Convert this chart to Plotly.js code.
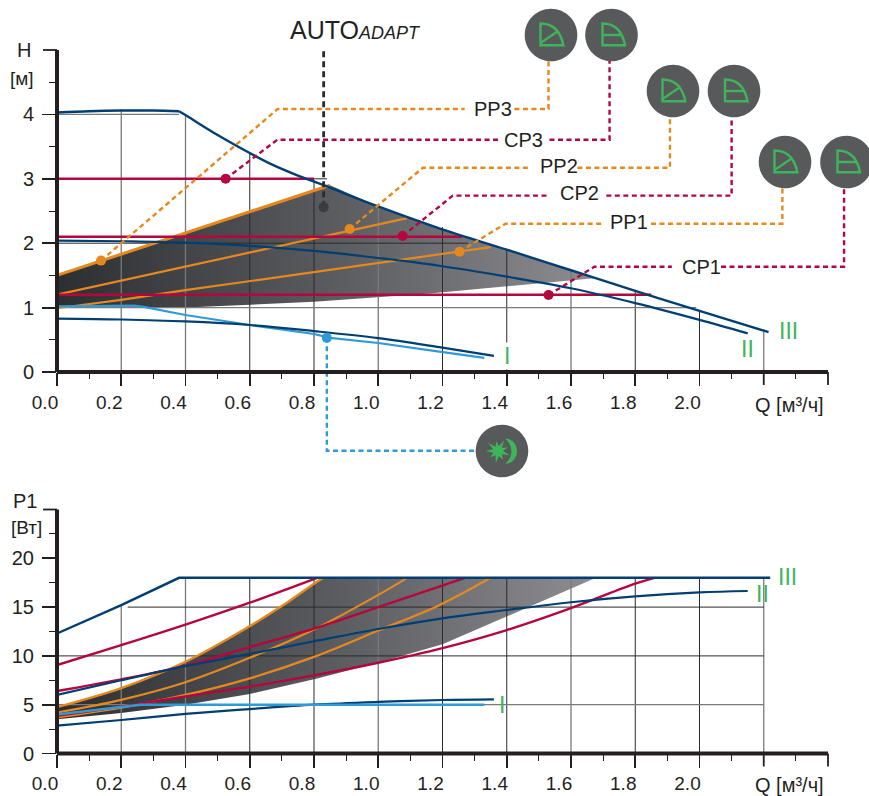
<!DOCTYPE html>
<html><head><meta charset="utf-8">
<script src="https://cdn.plot.ly/plotly-3.0.1.min.js"></script>
<style>html,body{margin:0;padding:0;background:#fff}#c{width:869px;height:796px}</style>
</head><body><div id="c"></div>
<script>
// ---------- data: head chart (Q, H) ----------
const plateauIII_Q=[0,0.1,0.2,0.3,0.38];
const plateauIII_H=[4.03,4.05,4.06,4.06,4.05];
const curveIII_Q=[0.38,0.4,0.5,0.6,0.67,0.75,0.83,1.0,1.19,1.4,1.6,1.8,2.0,2.215];
const curveIII_H=[4.05,3.99,3.68,3.40,3.22,3.05,2.9,2.57,2.23,1.9,1.58,1.26,0.95,0.62];
const curveII_Q=[0,0.2,0.4,0.6,0.8,1.0,1.19,1.4,1.6,1.8,2.0,2.15];
const curveII_H=[2.04,2.03,2.01,1.96,1.88,1.77,1.65,1.48,1.30,1.07,0.81,0.60];
const curveI_Q=[0,0.2,0.4,0.6,0.8,1.0,1.19,1.36];
const curveI_H=[0.83,0.815,0.785,0.73,0.635,0.525,0.385,0.25];
const night_Q=[0,0.24,0.27,0.4,0.6,0.8,0.85,1.0,1.19,1.33];
const night_H=[1.02,1.03,1.01,0.885,0.73,0.59,0.53,0.45,0.315,0.22];
const pp3_Q=[0,0.4,0.85];           const pp3_H=[1.5,2.16,2.9];
const pp2_Q=[0,0.2,0.4,0.6,0.8,1.0,1.09]; const pp2_H=[1.2,1.42,1.64,1.85,2.08,2.29,2.39];
const pp1_Q=[0,0.2,0.4,0.6,0.8,1.0,1.19,1.35]; const pp1_H=[0.99,1.12,1.27,1.41,1.56,1.70,1.83,1.94];
const cp3_Q=[0,0.8]; const cp3_H=[3,3];
const cp2_Q=[0,1.26]; const cp2_H=[2.1,2.1];
const cp1_Q=[0,1.85]; const cp1_H=[1.2,1.2];
const bandTop_Q=[0,0.4,0.85,1.0,1.19,1.4,1.6,1.68,1.4,1.16,0.8,0.4,0];
const bandTop_H=[1.5,2.16,2.9,2.57,2.23,1.9,1.58,1.46,1.33,1.22,1.09,1.0,1.0];
// operating points
const ptPP_Q=[0.137,0.911,1.253]; const ptPP_H=[1.73,2.22,1.868];
const ptCP_Q=[0.525,1.076,1.53];  const ptCP_H=[3,2.112,1.196];
const ptAuto_Q=[0.83]; const ptAuto_H=[2.56];
const ptNight_Q=[0.84]; const ptNight_H=[0.53];
// leaders
const lPP3_Q=[0.137,0.687,1.269,null,1.424,1.530,1.530]; const lPP3_H=[1.73,4.084,4.084,null,4.084,4.084,4.845];
const lCP3_Q=[0.525,0.686,1.377,null,1.533,1.720,1.720]; const lCP3_H=[3,3.607,3.607,null,3.607,3.607,4.845];
const lPP2_Q=[0.911,1.139,1.468,null,1.620,1.908,1.908]; const lPP2_H=[2.22,3.172,3.172,null,3.172,3.172,3.975];
const lCP2_Q=[1.076,1.232,1.527,null,1.710,2.100,2.100]; const lCP2_H=[2.112,2.738,2.738,null,2.738,2.738,3.975];
const lPP1_Q=[1.253,1.396,1.694,null,1.849,2.258,2.258]; const lPP1_H=[1.868,2.303,2.303,null,2.303,2.303,2.857];
const lCP1_Q=[1.530,1.673,1.914,null,2.067,2.450,2.450]; const lCP1_H=[1.196,1.635,1.635,null,1.635,1.635,2.857];
const lNight_Q=[0.84,0.84,1.303]; const lNight_H=[0.53,-1.222,-1.222];
const lAuto_Q=[0.83,0.83]; const lAuto_H=[2.56,5.036];
// grid extents
const gridV_Q=[0.2,0.4,0.6,0.8,1.0,1.2,1.4,1.6,1.8,2.0,2.2];
const gridV_H=[4.08,4.0,3.40,2.98,2.57,2.25,1.9,1.58,1.26,0.95,0.62];
const gridV_P=[15.2,18,18,18,18,18,18,18,18,18,18];
const gridDark=[0,0,1,1,0,1,1,0,1,1,0];
const gridH_H=[1,2,3,4]; const gridH_Qend=[1.99,1.28,0.84,0.38]; const gridH_dark=[0,1,1,0];
const gridH_P=[5,10,15]; const gridH_Pstart=[0,0,0.22]; const gridH_Pdark=[0,1,1];
// ---------- data: power chart (Q, P1) ----------
const pIII_Q=[0,0.2,0.38,2.22]; const pIII_P=[12.3,15.2,18,18];
const pII_Q=[0,0.2,0.4,0.6,0.8,1.0,1.19,1.4,1.6,1.8,2.0,2.15];
const pII_P=[6.0,7.5,8.96,10.2,11.5,12.76,13.8,14.7,15.5,16.1,16.5,16.65];
const pI_Q=[0,0.2,0.4,0.6,0.8,1.0,1.2,1.36]; const pI_P=[2.85,3.43,4.05,4.55,5.0,5.28,5.48,5.55];
const pNight_Q=[0,0.2,0.26,1.33]; const pNight_P=[4.0,4.8,5.0,5.0];
const pCP3_Q=[0,0.2,0.4,0.6,0.81]; const pCP3_P=[9.07,11.1,13.2,15.45,18];
const pCP2_Q=[0,0.2,0.4,0.6,0.8,1.0,1.19,1.27]; const pCP2_P=[6.4,7.6,9.0,10.9,12.8,15,17.1,18];
const pCP1_Q=[0,0.2,0.4,0.6,0.8,1.0,1.2,1.4,1.6,1.8,1.86]; const pCP1_P=[3.85,4.8,5.85,6.85,8.0,9.3,10.8,12.65,14.9,17.4,18];
const pPP3_Q=[0,0.2,0.4,0.6,0.7,0.8,0.83]; const pPP3_P=[4.75,6.7,9.4,13.05,15.1,17.4,18];
const pPP2_Q=[0,0.2,0.4,0.6,0.8,1.0,1.09]; const pPP2_P=[4.2,5.5,7.3,9.8,12.7,16.25,18];
const pPP1_Q=[0,0.2,0.4,0.6,0.8,1.0,1.19,1.35]; const pPP1_P=[3.7,4.7,6.0,7.7,9.9,12.6,15.2,18];
const pBand_Q=[0,0.2,0.4,0.6,0.7,0.8,0.83,1.678,1.4,1.2,1.0,0.8,0.6,0.4,0.2,0];
const pBand_P=[4.75,6.7,9.4,13.05,15.1,17.4,18,18,14.0,11.2,9.3,7.6,6.1,5.0,4.15,3.5];
// ticks
const xTicks=[0,0.2,0.4,0.6,0.8,1.0,1.2,1.4,1.6,1.8,2.0];
const xLabels=['0.0','0.2','0.4','0.6','0.8','1.0','1.2','1.4','1.6','1.8','2.0'];
const xTicksBare=[2.2,2.4];
const xMinor=[0.1,0.3,0.5,0.7,0.9,1.1,1.3,1.5,1.7,1.9,2.1,2.3];
const hTicks=[0,1,2,3,4]; const hLabels=['0','1','2','3','4']; const hTop=5;
const hMinor=[0.5,1.5,2.5,3.5,4.5];
const pTicks=[0,5,10,15,20]; const pLabels=['0','5','10','15','20']; const pTop=25;
const pMinor=[2.5,7.5,12.5,17.5,22.5];

// ---------- styles ----------
const NAVY='#003f74',CRIM='#b5063d',ORG='#e5891f',BLUE='#2f9ad6',INK='#231f20',GREEN='#3db55a',DISC='#58595b';
const FONT='"Liberation Sans",Arial,sans-serif';
const W=869,H=796;
const X0=57,X1=828,Y0a=372,Y1a=50,Y0b=753.5,Y1b=509.5;
const QMAX=2.4,kx=(X1-X0)/QMAX,kh=(Y0a-Y1a)/hTop,kp=(Y0b-Y1b)/pTop;
const px=x=>x/W, py=y=>(H-y)/H;

const traces=[];
function line(xs,ys,color,width,ax,opt={}){
  traces.push(Object.assign({x:xs,y:ys,xaxis:ax[0],yaxis:ax[1],mode:'lines',hoverinfo:'skip',
    line:Object.assign({color:color,width:width},opt.line||{})},opt.t||{}));
}
const A1=['x','y'],A2=['x2','y2'],OA=['x3','y3'],OB=['x3','y4'];
const grad={type:'horizontal',start:0,stop:1.7,colorscale:[[0,'#2c2f32'],[0.5,'#5a5b5e'],[1,'#8e8e93']]};
// bands
traces.push({x:bandTop_Q,y:bandTop_H,xaxis:'x',yaxis:'y',mode:'lines',fill:'toself',fillgradient:grad,line:{width:0},hoverinfo:'skip'});
traces.push({x:pBand_Q,y:pBand_P,xaxis:'x2',yaxis:'y2',mode:'lines',fill:'toself',fillgradient:grad,line:{width:0},hoverinfo:'skip'});
// grid
const GD='#2b2b2b',GL='#7a7a7a';
gridV_Q.forEach((q,i)=>{
  line([q,q],[0,gridV_H[i]],gridDark[i]?GD:GL,gridDark[i]?1:1.3,A1);
  line([q,q],[0,gridV_P[i]],gridDark[i]?GD:GL,gridDark[i]?1:1.3,A2);
});
gridH_H.forEach((h,i)=>line([0,gridH_Qend[i]],[h,h],gridH_dark[i]?GD:GL,gridH_dark[i]?1:1.3,A1));
gridH_P.forEach((p,i)=>line([gridH_Pstart[i],2.2],[p,p],gridH_Pdark[i]?GD:GL,gridH_Pdark[i]?1:1.3,A2));
// head curves
const sp={shape:'spline',smoothing:1};
line(pp3_Q,pp3_H,ORG,3,A1);
line(pp2_Q,pp2_H,ORG,2.2,A1);
line(pp1_Q,pp1_H,ORG,2.2,A1);
line(cp3_Q,cp3_H,CRIM,2.4,A1);
line(cp2_Q,cp2_H,CRIM,2.4,A1);
line(cp1_Q,cp1_H,CRIM,2.4,A1);
line(night_Q,night_H,BLUE,2.2,A1);
line(curveI_Q,curveI_H,NAVY,2.2,A1,{line:sp});
line(curveII_Q,curveII_H,NAVY,2.2,A1,{line:sp});
line(plateauIII_Q,plateauIII_H,NAVY,2.4,A1,{line:sp});
line(curveIII_Q,curveIII_H,NAVY,2.4,A1,{line:sp});
// power curves
line(pPP3_Q,pPP3_P,ORG,2.4,A2,{line:sp});
line(pPP2_Q,pPP2_P,ORG,2.2,A2,{line:sp});
line(pPP1_Q,pPP1_P,ORG,2.2,A2,{line:sp});
line(pCP3_Q,pCP3_P,CRIM,2.4,A2,{line:sp});
line(pCP2_Q,pCP2_P,CRIM,2.4,A2,{line:sp});
line(pCP1_Q,pCP1_P,CRIM,2.4,A2,{line:sp});
line(pII_Q,pII_P,NAVY,2.2,A2,{line:sp});
line(pI_Q,pI_P,NAVY,2.2,A2,{line:sp});
line(pNight_Q,pNight_P,BLUE,2.4,A2);
line(pIII_Q,pIII_P,NAVY,2.4,A2);
// overlay subplot spanning the whole page: leaders, axis lines, points (same scales, nothing clipped)
const dsh={dash:'5px,3.5px'};
line(lPP3_Q,lPP3_H,ORG,2.4,OA,{line:dsh});
line(lPP2_Q,lPP2_H,ORG,2.4,OA,{line:dsh});
line(lPP1_Q,lPP1_H,ORG,2.4,OA,{line:dsh});
line(lCP3_Q,lCP3_H,CRIM,2.4,OA,{line:dsh});
line(lCP2_Q,lCP2_H,CRIM,2.4,OA,{line:dsh});
line(lCP1_Q,lCP1_H,CRIM,2.4,OA,{line:dsh});
line(lNight_Q,lNight_H,BLUE,2.4,OA,{line:dsh});
line(lAuto_Q,lAuto_H,'#2a2a2c',2.8,OA,{line:{dash:'6px,4px'}});
line([0,QMAX],[0,0],INK,4,OA);line([0,0],[0,hTop],INK,4,OA);
line([0,QMAX],[0,0],INK,4,OB);line([0,0],[0,pTop],INK,4,OB);
// the unlabelled major ticks
xTicksBare.forEach(q=>{line([q,q],[0,-13/kh],INK,1.8,OA);line([q,q],[0,-13/kp],INK,1.8,OB);});
line([-14/kx,0],[hTop,hTop],INK,1.8,OA);line([-14/kx,0],[pTop,pTop],INK,1.8,OB);
function pts(xs,ys,color){traces.push({x:xs,y:ys,xaxis:'x3',yaxis:'y3',mode:'markers',hoverinfo:'skip',cliponaxis:false,marker:{color:color,size:10,line:{width:0}}});}
pts(ptPP_Q,ptPP_H,ORG);pts(ptCP_Q,ptCP_H,CRIM);pts(ptAuto_Q,ptAuto_H,'#3b3c3e');pts(ptNight_Q,ptNight_H,BLUE);

// ---------- icons ----------
const iconPP=[[551,35],[673,91],[785,162]], iconCP=[[611.5,35],[734,91],[846.5,162]], iconNight=[502,451];
const shapes=[];
function at(cx,cy,path,extra){shapes.push(Object.assign({type:'path',xref:'paper',yref:'paper',xsizemode:'pixel',ysizemode:'pixel',
  xanchor:px(cx),yanchor:py(cy),path:path,layer:'above'},extra));}
function disc(cx,cy){
  const r=26.3,k=r*0.5523;
  at(cx,cy,`M${-r},0 C${-r},${k} ${-k},${r} 0,${r} C${k},${r} ${r},${k} ${r},0 C${r},${-k} ${k},${-r} 0,${-r} C${-k},${-r} ${-r},${-k} ${-r},0 Z`,{fillcolor:DISC,line:{width:0}});
}
const gl={color:GREEN,width:2.4};
iconPP.forEach(([x,y])=>{disc(x,y);
  at(x,y,'M-10.5,11.5 L-10.5,-10.3 L12.3,-10.3 Q8.1,11.4 -10.5,11.5 Z',{line:gl,fillcolor:'rgba(0,0,0,0)'});
  at(x,y,'M-10.5,-8 L6.5,3.5',{line:gl});});
iconCP.forEach(([x,y])=>{disc(x,y);
  at(x,y,'M-9,11.5 L-9,-10.3 L13.5,-10.3 Q9.5,11.4 -9,11.5 Z',{line:gl,fillcolor:'rgba(0,0,0,0)'});
  at(x,y,'M-9,0 L10,0',{line:gl});});
disc(iconNight[0],iconNight[1]);
(function(){let p='';const n=9;for(let i=0;i<2*n;i++){const a=Math.PI+i*Math.PI/n,r=i%2?5:(i%4?10:12.5);
  p+=(i?'L':'M')+(-4+r*Math.cos(a)).toFixed(1)+','+(r*Math.sin(a)).toFixed(1)+' ';}
  at(iconNight[0],iconNight[1],p+'Z',{fillcolor:GREEN,line:{width:0}});
  at(iconNight[0],iconNight[1],'M3,12.5 C19,12 19,-12 3,-13 C12,-6 11,6 3,12.5 Z',{fillcolor:GREEN,line:{width:0}});})();

// ---------- text ----------
const ann=[];
function text(x,y,t,size,color,extra){ann.push(Object.assign({xref:'paper',yref:'paper',x:px(x),y:py(y),text:t,showarrow:false,xanchor:'center',yanchor:'middle',
  font:{family:FONT,size:size,color:color||INK},borderpad:0},extra||{}));}
text(24,50,'H',20);text(22,78,'[м]',19);
text(25,501,'P1',20);text(26,527,'[Вт]',19);
text(355,30,'AUTO<i><span style="font-size:18px">ADAPT</span></i>',25);
text(493,109,'PP3',20);text(523,140,'CP3',20);text(559,166,'PP2',20);text(579,193,'CP2',20);text(629,222,'PP1',20);text(701,267,'CP1',20);
text(789,405,'Q [м³/ч]',20);text(789,785,'Q [м³/ч]',20);
text(788,331,'III',23,GREEN);text(747,349,'II',23,GREEN);text(507,356,'I',23,GREEN,{bgcolor:'#fff'});
text(787,577,'III',23,GREEN);text(762,594,'II',23,GREEN);text(502,705,'I',23,GREEN);

const xFont={family:FONT,size:19,color:INK},yFont={family:FONT,size:20,color:INK};
const xa=(anchor,st)=>({anchor:anchor,domain:[px(X0),px(X1)],range:[0,QMAX],showgrid:false,zeroline:false,showline:false,tickmode:'array',tickvals:xTicks,ticktext:xLabels,
  ticks:'outside',ticklen:13,tickwidth:1.8,tickcolor:INK,tickfont:xFont,ticklabelshift:-12,ticklabelstandoff:st,
  minor:{tickmode:'array',tickvals:xMinor,ticks:'outside',ticklen:6,tickwidth:1,tickcolor:INK,showgrid:false}});
const ya=(anchor,dom,rng,v,t,m)=>({anchor:anchor,domain:dom,range:rng,showgrid:false,zeroline:false,showline:false,tickmode:'array',tickvals:v,ticktext:t,
  ticks:'outside',ticklen:14,tickwidth:1.8,tickcolor:INK,tickfont:yFont,ticklabelstandoff:4,
  minor:{tickmode:'array',tickvals:m,ticks:'outside',ticklen:7,tickwidth:1,tickcolor:INK,showgrid:false}});
const hidden=(anchor,rng)=>({anchor:anchor,domain:[0,1],range:rng,visible:false,showgrid:false,zeroline:false});

Plotly.newPlot('c',traces,{
  width:W,height:H,showlegend:false,paper_bgcolor:'#fff',plot_bgcolor:'rgba(0,0,0,0)',
  margin:{l:0,r:0,t:0,b:0,pad:0},
  xaxis:xa('y',0),xaxis2:xa('y2',0),
  yaxis:ya('x',[py(Y0a),py(Y1a)],[0,hTop],hTicks,hLabels,hMinor),
  yaxis2:ya('x2',[py(Y0b),py(Y1b)],[0,pTop],pTicks,pLabels,pMinor),
  xaxis3:hidden('y3',[-X0/kx,(W-X0)/kx]),
  yaxis3:hidden('x3',[(Y0a-H)/kh,Y0a/kh]),
  yaxis4:hidden('x3',[(Y0b-H)/kp,Y0b/kp]),
  shapes:shapes,annotations:ann
},{displayModeBar:false,staticPlot:true});
</script></body></html>
